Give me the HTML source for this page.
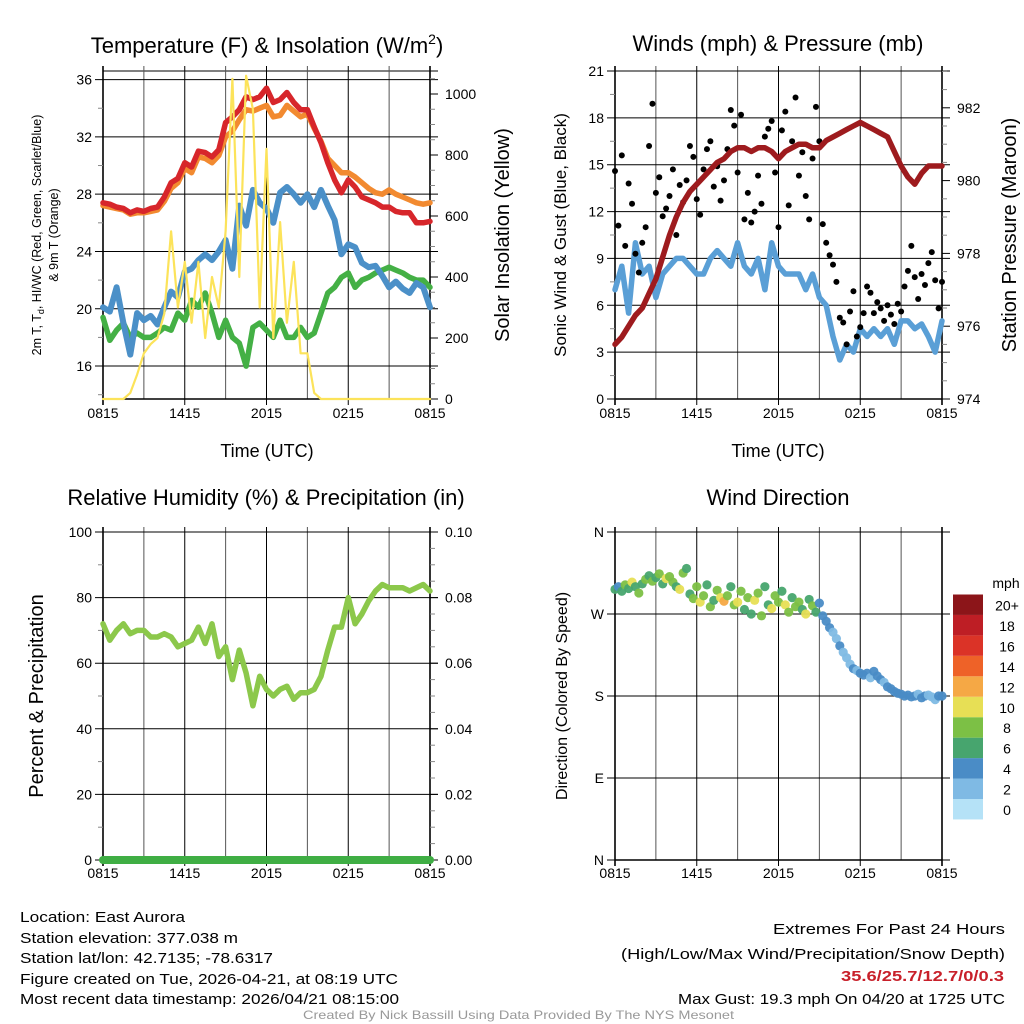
<!DOCTYPE html>
<html><head><meta charset="utf-8"><style>
html,body{margin:0;padding:0;background:#fff;}
svg{display:block;font-family:"Liberation Sans",sans-serif;}
</style></head><body>
<svg id="chart" width="1024" height="1024" viewBox="0 0 1024 1024" xmlns="http://www.w3.org/2000/svg">
<rect width="1024" height="1024" fill="#fff"/>
<g id="g1"></g>
<g id="g2"></g>
<g id="g3"></g>
<g id="g4"></g>

<text x="267" y="53" font-size="22" text-anchor="middle">Temperature (F) &amp; Insolation (W/m<tspan font-size="14" dy="-9">2</tspan><tspan dy="9">)</tspan></text>
<text x="778" y="51" font-size="22" text-anchor="middle">Winds (mph) &amp; Pressure (mb)</text>
<text x="266" y="505" font-size="22" text-anchor="middle">Relative Humidity (%) &amp; Precipitation (in)</text>
<text x="778" y="505" font-size="22" text-anchor="middle">Wind Direction</text>

<text x="267" y="457" font-size="18" text-anchor="middle">Time (UTC)</text>
<text x="778" y="457" font-size="18" text-anchor="middle">Time (UTC)</text>

<text transform="translate(41,235) rotate(-90)" font-size="12.5" text-anchor="middle">2m T, T<tspan font-size="9" dy="3">d</tspan><tspan dy="-3">, HI/WC (Red, Green, Scarlet/Blue)</tspan></text>
<text transform="translate(58,235) rotate(-90)" font-size="12.5" text-anchor="middle">&amp; 9m T (Orange)</text>
<text transform="translate(509,235) rotate(-90)" font-size="20" text-anchor="middle">Solar Insolation (Yellow)</text>
<text transform="translate(566,235) rotate(-90)" font-size="17" text-anchor="middle">Sonic Wind &amp; Gust (Blue, Black)</text>
<text transform="translate(1016,235) rotate(-90)" font-size="20" text-anchor="middle">Station Pressure (Maroon)</text>
<text transform="translate(43,696) rotate(-90)" font-size="20" text-anchor="middle">Percent &amp; Precipitation</text>
<text transform="translate(567,696) rotate(-90)" font-size="16" text-anchor="middle">Direction (Colored By Speed)</text>

<g font-size="15">
<text x="20" y="922" textLength="165" lengthAdjust="spacingAndGlyphs">Location: East Aurora</text>
<text x="20" y="943" textLength="218" lengthAdjust="spacingAndGlyphs">Station elevation: 377.038 m</text>
<text x="20" y="963" textLength="253" lengthAdjust="spacingAndGlyphs">Station lat/lon: 42.7135; -78.6317</text>
<text x="20" y="984" textLength="378" lengthAdjust="spacingAndGlyphs">Figure created on Tue, 2026-04-21, at 08:19 UTC</text>
<text x="20" y="1004" textLength="379" lengthAdjust="spacingAndGlyphs">Most recent data timestamp: 2026/04/21 08:15:00</text>
</g>
<g font-size="15">
<text x="773" y="934" textLength="232" lengthAdjust="spacingAndGlyphs">Extremes For Past 24 Hours</text>
<text x="621" y="959" textLength="384" lengthAdjust="spacingAndGlyphs">(High/Low/Max Wind/Precipitation/Snow Depth)</text>
<text x="841" y="981" font-weight="bold" fill="#c8202a" textLength="163" lengthAdjust="spacingAndGlyphs">35.6/25.7/12.7/0/0.3</text>
<text x="678" y="1004" textLength="327" lengthAdjust="spacingAndGlyphs">Max Gust: 19.3 mph On 04/20 at 1725 UTC</text>
</g>
<text x="303" y="1019" font-size="12" fill="#999" textLength="431" lengthAdjust="spacingAndGlyphs">Created By Nick Bassill Using Data Provided By The NYS Mesonet</text>
</svg>
<script>
// ---- data (hours since 0815 UTC) ----
const hours = [0,0.5,1,1.5,2,2.5,3,3.5,4,4.5,5,5.5,6,6.5,7,7.5,8,8.5,9,9.5,10,10.5,11,11.5,12,12.5,13,13.5,14,14.5,15,15.5,16,16.5,17,17.5,18,18.5,19,19.5,20,20.5,21,21.5,22,22.5,23,23.5,24];
const tempRed = [27.4,27.3,27.1,27.0,26.7,26.9,26.8,27.0,27.1,27.8,28.8,29.1,30.2,29.9,31.0,30.9,30.6,31.1,33.0,33.4,33.9,34.8,34.6,34.8,35.4,34.4,34.6,35.1,34.4,33.9,33.9,32.7,31.6,30.2,29.0,28.1,29.0,28.5,27.8,27.6,27.4,27.1,27.1,26.8,26.7,26.7,26.0,26.0,26.1];
const temp9m = [27.2,27.1,27.0,26.9,26.6,26.7,26.7,26.8,26.9,27.5,28.4,28.8,29.8,29.5,30.6,30.5,30.2,30.7,32.0,32.4,33.2,33.9,33.8,34.0,34.2,33.4,33.5,34.2,33.8,33.4,33.6,32.6,31.7,30.5,30.0,29.5,29.5,29.2,28.8,28.4,28.1,28.0,28.3,28.0,27.8,27.6,27.4,27.3,27.4];
const windChill = [20.1,19.8,21.5,19.0,16.8,19.7,19.2,19.5,18.9,20.1,21.2,20.8,22.6,22.8,23.4,23.8,23.4,24.0,24.8,22.8,27.2,25.8,28.3,27.4,27.0,26.0,28.1,28.5,28.0,27.4,28.0,27.1,28.3,27.2,26.2,23.8,24.5,24.3,23.2,22.9,23.0,22.3,21.5,21.9,21.4,21.1,21.8,21.5,20.1];
const dewPoint = [19.4,17.8,18.5,19.0,18.0,18.3,18.0,18.0,18.3,18.7,18.5,19.7,19.2,20.6,20.1,21.1,19.7,18.0,19.2,18.0,17.6,16.0,18.7,19.0,18.5,18.0,19.2,18.0,18.0,18.7,18.0,18.3,19.7,21.1,21.5,22.2,22.5,21.5,22.0,22.2,22.5,22.7,22.9,22.7,22.5,22.2,22.0,22.0,21.5];
const solar = [0,0,0,0,20,80,150,180,200,280,550,300,450,250,450,200,400,300,550,1050,400,1060,950,300,820,200,580,250,450,150,150,20,0,0,0,0,0,0,0,0,0,0,0,0,0,0,0,0,0];
const windSpeed = [7,8.5,5.5,10,8,8.5,6.5,8,8.5,9,9,8.5,8,8,9,9.5,9,8.5,10,8.5,8,9,7,10,8.5,8,8,8,7,8,6.5,6,4,2.5,3.5,3,4.5,4,4.5,4,4.5,3.5,5,5,4.5,4.8,4,3,5];
const pressure = [975.5,975.7,976.0,976.3,976.5,976.9,977.3,977.9,978.5,979.0,979.4,979.7,979.9,980.1,980.3,980.5,980.6,980.8,980.9,980.9,980.8,980.9,980.9,980.8,980.6,980.8,980.9,981.0,981.0,980.9,980.9,981.1,981.2,981.3,981.4,981.5,981.6,981.5,981.4,981.3,981.2,980.8,980.4,980.1,979.9,980.2,980.4,980.4,980.4];
const rh = [72,67,70,72,69,70,70,68,68,69,68,65,66,67,71,66,72,62,65,55,64,57,47,56,52,50,52,53,49,51,51,52,56,64,71,71,80,72,75,79,82,84,83,83,83,82,83,84,82];
const precip = [0,0,0,0,0,0,0,0,0,0,0,0,0,0,0,0,0,0,0,0,0,0,0,0,0,0,0,0,0,0,0,0,0,0,0,0,0,0,0,0,0,0,0,0,0,0,0,0,0];
const quarterHours = [0,0.25,0.5,0.75,1,1.25,1.5,1.75,2,2.25,2.5,2.75,3,3.25,3.5,3.75,4,4.25,4.5,4.75,5,5.25,5.5,5.75,6,6.25,6.5,6.75,7,7.25,7.5,7.75,8,8.25,8.5,8.75,9,9.25,9.5,9.75,10,10.25,10.5,10.75,11,11.25,11.5,11.75,12,12.25,12.5,12.75,13,13.25,13.5,13.75,14,14.25,14.5,14.75,15,15.25,15.5,15.75,16,16.25,16.5,16.75,17,17.25,17.5,17.75,18,18.25,18.5,18.75,19,19.25,19.5,19.75,20,20.25,20.5,20.75,21,21.25,21.5,21.75,22,22.25,22.5,22.75,23,23.25,23.5,23.75,24];
const gusts = [14.6,11.1,15.6,9.8,13.8,12.5,9.3,8.1,10,11,16.2,18.9,13.2,14.2,11.7,12.2,13,14.7,10.5,13.7,12.6,14,16.2,15.5,12.8,11.8,14.7,16,16.5,13.6,14.9,12.7,14,16,18.5,17.5,14.5,18.2,11.5,13.2,11.3,12,14.3,12.5,16.8,17.3,17.8,14.5,11,17.2,18.4,12.4,16.5,19.3,14.3,15.8,13,11.5,15.4,18.7,16.5,11.2,10,9.2,8.6,7.5,5.2,4.9,3.5,5.6,6.9,4,4.6,5.5,7.2,6.8,5.5,6.2,5.8,5,6,5.4,4.8,6.1,5.6,7.2,8.2,9.8,7.8,6.4,8,7.3,8.7,9.4,7.6,5.8,7.5];
const windDir = [297,300,295,302,298,305,300,293,303,308,312,306,310,314,303,309,311,305,300,297,315,320,292,287,300,283,290,302,278,285,296,288,284,290,300,280,283,295,275,288,270,285,293,268,300,280,276,290,283,295,280,272,288,278,283,275,270,286,279,272,282,268,262,255,250,243,235,228,222,215,210,208,205,203,205,200,207,202,198,195,190,188,185,183,182,180,181,179,180,182,178,180,181,179,176,180,180];
const dirSpeed = [7,5,7,8,6,11,7,9,7,8,7,9,6,8,7,10,9,8,7,10,9,7,6,8,9,10,8,6,9,7,8,10,12,8,7,9,11,8,6,9,7,10,8,9,7,6,11,8,9,7,10,8,6,9,8,7,11,6,8,7,5,5,4,4,3,3,4,3,2,3,4,3,4,4,5,3,4,4,4,3,4,4,5,4,4,4,4,5,4,3,4,4,2,2,3,4,4];
const timeLabels = ["0815","1415","2015","0215","0815"];
const tempTicks = [16,20,24,28,32,36];
const solarTicks = [0,200,400,600,800,1000];
const windTicks = [0,3,6,9,12,15,18,21];
const pressTicks = [974,976,978,980,982];
const rhTicks = [0,20,40,60,80,100];
const precipTicks = ["0.00","0.02","0.04","0.06","0.08","0.10"];
const dirTicks = [0,90,180,270,360];
const dirLabels = ["N","E","S","W","N"];
const speedBins = ["0","2","4","6","8","10","12","14","16","18","20+"];
const binColors = ["#b5e2f7","#7fbae4","#4a8cc6","#47a56e","#7cc045","#e7df55","#f5a845","#ee6228","#db3327","#be1e25","#8c1519"];

const NS = "http://www.w3.org/2000/svg";
function mk(parent, tag, attrs, name, inter) {
  const el = document.createElementNS(NS, tag);
  for (const k in attrs) el.setAttribute(k, attrs[k]);
  
  
  parent.appendChild(el);
  return el;
}
function txt(parent, x, y, s, size, anchor, name) {
  const el = mk(parent, 'text', {x: x, y: y, 'font-size': size, 'text-anchor': anchor}, name, false);
  el.textContent = s;
  return el;
}
function mkX(x0, x1) { return t => x0 + t * (x1 - x0) / 24; }
function mkY(y0, y1, v0, v1) { return v => y1 - (v - v0) * (y1 - y0) / (v1 - v0); }
function pathOf(xs, ys, fx, fy) {
  let d = '';
  for (let i = 0; i < xs.length; i++) d += (i ? 'L' : 'M') + fx(xs[i]).toFixed(1) + ',' + fy(ys[i]).toFixed(1);
  return d;
}
function series(g, xs, ys, fx, fy, color, w, name) {
  return mk(g, 'path', {d: pathOf(xs, ys, fx, fy), fill: 'none', stroke: color, 'stroke-width': w, 'stroke-linejoin': 'round', 'stroke-linecap': 'round'}, name, false);
}
function frame(g, x0, x1, y0, y1, fx, yTicksL, fyL, labelsL, yTicksR, fyR, labelsR, labelY, minorL, minorR) {
  for (let i = 0; i <= 8; i++) {
    const x = fx(i * 3);
    mk(g, 'line', {x1: x, y1: y0 - 5, x2: x, y2: y1 + (i % 2 ? 0 : 6), stroke: i % 2 ? '#555' : '#000', 'stroke-width': (i === 0 || i === 8) ? 1.6 : 1}, 'vertical-gridline', false);
  }
  yTicksL.forEach((v, i) => {
    const y = fyL(v);
    mk(g, 'line', {x1: x0 - 8, y1: y, x2: x1 + 8, y2: y, stroke: '#000', 'stroke-width': 1}, 'horizontal-gridline', false);
    txt(g, x0 - 11, y + 5, labelsL[i], 14, 'end', 'left-tick-label');
  });
  minorL.forEach(v => { mk(g, 'line', {x1: x0 - 5, y1: fyL(v), x2: x0, y2: fyL(v), stroke: '#888'}, 'left-minor-tick', false); });
  yTicksR.forEach((v, i) => {
    const y = fyR(v);
    mk(g, 'line', {x1: x1, y1: y, x2: x1 + 8, y2: y, stroke: '#000'}, 'right-tick', false);
    txt(g, x1 + 15, y + 5, labelsR[i], 14, 'start', 'right-tick-label');
  });
  minorR.forEach(v => { mk(g, 'line', {x1: x1, y1: fyR(v), x2: x1 + 5, y2: fyR(v), stroke: '#888'}, 'right-minor-tick', false); });
  mk(g, 'line', {x1: x0, y1: y1, x2: x1, y2: y1, stroke: '#000', 'stroke-width': 1.5}, 'x-axis-line', false);
  timeLabels.forEach((s, i) => { txt(g, fx(i * 6), labelY, s, 14, 'middle', 'time-tick-label'); });
}

// Panel 1
(function(){
  const g = document.getElementById('g1');
  const fx = mkX(103, 430), fy = mkY(71, 399, 13.7, 36.6), fs = v => 399 - v * 0.305;
  const minorL = [14,18,22,26,30,34], minorR = [];
  for (let v = 50; v <= 1050; v += 50) if (v % 200) minorR.push(v);
  mk(g, 'line', {x1: 103, y1: 71, x2: 438, y2: 71, stroke: '#000'}, 'top-frame', false);
  frame(g, 103, 430, 71, 399, fx, tempTicks, fy, tempTicks.map(String), solarTicks, fs, solarTicks.map(String), 418, minorL, minorR);
  series(g, hours, dewPoint, fx, fy, '#44b045', 5.5, 'dewpoint-line');
  series(g, hours, windChill, fx, fy, '#4b90c8', 6, 'wind-chill-line');
  series(g, hours, temp9m, fx, fy, '#f28a30', 5.5, 'temp-9m-line');
  series(g, hours, tempRed, fx, fy, '#d7262b', 5.5, 'temp-2m-line');
  series(g, hours, solar, fx, fs, '#fce35a', 2.2, 'solar-insolation-line');
})();

// Panel 2
(function(){
  const g = document.getElementById('g2');
  const fx = mkX(615, 942), fy = mkY(71, 399, 0, 21), fp = v => 399 - (v - 974) * 36.4;
  const minorL = [1.5,4.5,7.5,10.5,13.5,16.5,19.5], minorR = [974.5,975,975.5,976.5,977,977.5,978.5,979,979.5,980.5,981,981.5,982.5,983];
  frame(g, 615, 942, 71, 399, fx, windTicks, fy, windTicks.map(String), pressTicks, fp, pressTicks.map(String), 418, minorL, minorR);
  series(g, hours, windSpeed, fx, fy, '#5a9fd6', 5.5, 'wind-speed-line');
  quarterHours.forEach((t, i) => {
    mk(g, 'circle', {cx: fx(t), cy: fy(gusts[i]), r: 3, fill: '#000'}, 'gust-point', false);
  });
  series(g, hours, pressure, fx, fp, '#9e1b1e', 5.5, 'pressure-line');
})();

// Panel 3
(function(){
  const g = document.getElementById('g3');
  const fx = mkX(103, 430), fy = mkY(532, 860, 0, 100), fpr = v => 860 - v * 3280;
  const minorL = [10,30,50,70,90], minorR = [0.005,0.01,0.015,0.025,0.03,0.035,0.045,0.05,0.055,0.065,0.07,0.075,0.085,0.09,0.095];
  frame(g, 103, 430, 532, 860, fx, rhTicks, fy, rhTicks.map(String), precipTicks.map(Number), fpr, precipTicks, 878, minorL, minorR);
  series(g, hours, rh, fx, fy, '#8cc84b', 5.5, 'relative-humidity-line');
  series(g, hours, precip, fx, fpr, '#3fae44', 8, 'precipitation-line');
})();

// Panel 4
(function(){
  const g = document.getElementById('g4');
  const fx = mkX(615, 942), fy = mkY(532, 860, 0, 360);
  frame(g, 615, 942, 532, 860, fx, dirTicks, fy, dirLabels, [], fy, [], 878, [], []);
  quarterHours.forEach((t, i) => {
    const b = Math.min(10, Math.floor(dirSpeed[i] / 2));
    mk(g, 'circle', {cx: fx(t), cy: fy(windDir[i]), r: 4.6, fill: binColors[b], 'fill-opacity': 0.95}, 'direction-point', false);
  });
  txt(g, 1006, 588, 'mph', 14, 'middle', 'legend-unit');
  speedBins.forEach((s, i) => {
    const y = 799 - i * 20.45;
    mk(g, 'rect', {x: 953, y: y, width: 30, height: 20.45, fill: binColors[i]}, 'legend-swatch', false);
    txt(g, 1007, y + 16, s, 14, 'middle', 'legend-label');
  });
})();
</script>
</body></html>
